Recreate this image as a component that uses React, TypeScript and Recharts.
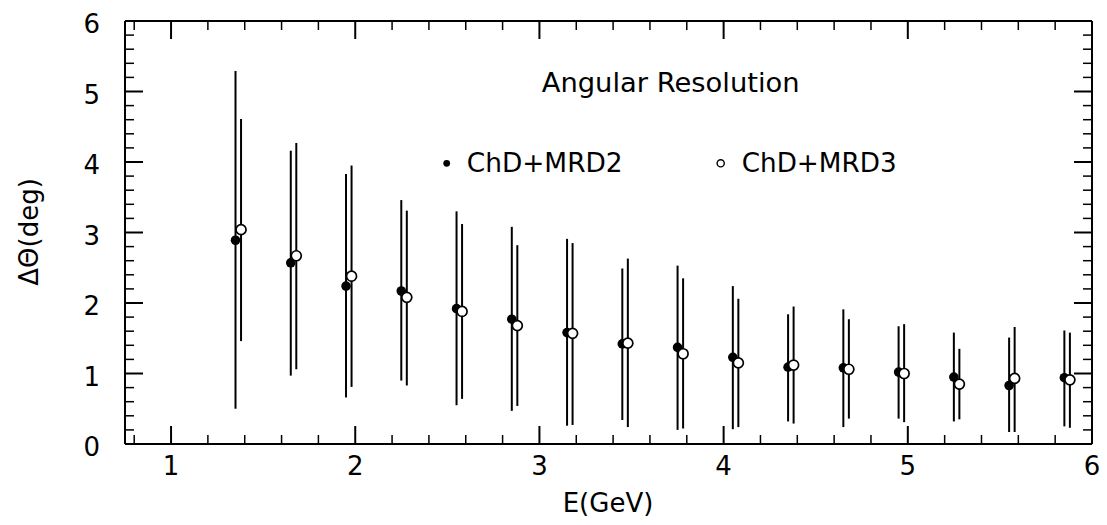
import React from 'react';
import { ScatterChart, Scatter, XAxis, YAxis, ErrorBar, Customized } from 'recharts';

// Energies (GeV) for each series
const energyMRD2 = [1.35, 1.65, 1.95, 2.25, 2.55, 2.85, 3.15, 3.45, 3.75, 4.05, 4.35, 4.65, 4.95, 5.25, 5.55, 5.85];
const energyMRD3 = [1.38, 1.68, 1.98, 2.28, 2.58, 2.88, 3.18, 3.48, 3.78, 4.08, 4.38, 4.68, 4.98, 5.28, 5.58, 5.88];

// ChD+MRD2: central value, upper and lower ends of the error bar
const resMRD2 = [2.89, 2.57, 2.24, 2.17, 1.92, 1.77, 1.58, 1.42, 1.37, 1.23, 1.09, 1.08, 1.02, 0.95, 0.83, 0.94];
const highMRD2 = [5.29, 4.16, 3.83, 3.46, 3.30, 3.08, 2.91, 2.49, 2.53, 2.24, 1.84, 1.91, 1.67, 1.58, 1.51, 1.61];
const lowMRD2 = [0.50, 0.97, 0.66, 0.90, 0.55, 0.47, 0.26, 0.34, 0.20, 0.21, 0.32, 0.24, 0.36, 0.32, 0.17, 0.25];

// ChD+MRD3
const resMRD3 = [3.04, 2.67, 2.38, 2.08, 1.88, 1.68, 1.57, 1.43, 1.28, 1.15, 1.12, 1.06, 1.00, 0.85, 0.93, 0.91];
const highMRD3 = [4.61, 4.27, 3.95, 3.31, 3.12, 2.82, 2.85, 2.63, 2.35, 2.06, 1.95, 1.77, 1.70, 1.35, 1.66, 1.58];
const lowMRD3 = [1.46, 1.06, 0.81, 0.83, 0.64, 0.54, 0.27, 0.24, 0.22, 0.24, 0.29, 0.36, 0.31, 0.35, 0.17, 0.23];

// Tick positions (major ticks at integers get labels)
const xTicks = [0.8, 1, 1.2, 1.4, 1.6, 1.8, 2, 2.2, 2.4, 2.6, 2.8, 3, 3.2, 3.4, 3.6, 3.8, 4, 4.2, 4.4, 4.6, 4.8, 5, 5.2, 5.4, 5.6, 5.8, 6];
const yTicks = [0, 0.2, 0.4, 0.6, 0.8, 1, 1.2, 1.4, 1.6, 1.8, 2, 2.2, 2.4, 2.6, 2.8, 3, 3.2, 3.4, 3.6, 3.8, 4, 4.2, 4.4, 4.6, 4.8, 5, 5.2, 5.4, 5.6, 5.8, 6];

const titleText = 'Angular Resolution';
const legendMRD2 = 'ChD+MRD2';
const legendMRD3 = 'ChD+MRD3';
const xLabel = 'E(GeV)';
const yLabel = 'ΔΘ(deg)';

const dataMRD2 = energyMRD2.map((x, i) => ({ x, y: resMRD2[i], err: [resMRD2[i] - lowMRD2[i], highMRD2[i] - resMRD2[i]] }));
const dataMRD3 = energyMRD3.map((x, i) => ({ x, y: resMRD3[i], err: [resMRD3[i] - lowMRD3[i], highMRD3[i] - resMRD3[i]] }));

const FONT = 'DejaVu Sans';
const isMajor = (v: number) => Math.abs(v - Math.round(v)) < 1e-6;
const MAJOR = 18;
const MINOR = 9;

const BottomTick = (props: any) => {
  const { x, y, payload } = props;
  const v = payload.value;
  const major = isMajor(v);
  return (
    <g>
      <line x1={x} x2={x} y1={y} y2={y - (major ? MAJOR : MINOR)} stroke="#000" strokeWidth={major ? 2 : 1.5} />
      {major && (
        <text x={x} y={y + 31} textAnchor="middle" fontFamily={FONT} fontSize={26} fill="#000">
          {String(Math.round(v))}
        </text>
      )}
    </g>
  );
};

const TopTick = (props: any) => {
  const { x, y, payload } = props;
  const major = isMajor(payload.value);
  return <line x1={x} x2={x} y1={y} y2={y + (major ? MAJOR : MINOR)} stroke="#000" strokeWidth={major ? 2 : 1.5} />;
};

const LeftTick = (props: any) => {
  const { x, y, payload } = props;
  const v = payload.value;
  const major = isMajor(v);
  return (
    <g>
      <line x1={x} x2={x + (major ? MAJOR : MINOR)} y1={y} y2={y} stroke="#000" strokeWidth={major ? 2 : 1.5} />
      {major && (
        <text x={x - 25} y={y + 12} textAnchor="end" fontFamily={FONT} fontSize={26} fill="#000">
          {String(Math.round(v))}
        </text>
      )}
    </g>
  );
};

const RightTick = (props: any) => {
  const { x, y, payload } = props;
  const major = isMajor(payload.value);
  return <line x1={x} x2={x - (major ? MAJOR : MINOR)} y1={y} y2={y} stroke="#000" strokeWidth={major ? 2 : 1.5} />;
};

const FilledDot = (props: any) => {
  const { cx, cy } = props;
  return <circle cx={cx} cy={cy} r={4.8} fill="#000" stroke="none" />;
};

const OpenDot = (props: any) => {
  const { cx, cy } = props;
  return <circle cx={cx} cy={cy} r={5} fill="#fff" stroke="#000" strokeWidth={1.7} />;
};

const Annotations = () => (
  <g fontFamily={FONT} fill="#000">
    <text x={541.7} y={92.3} fontSize={26} textLength={258} lengthAdjust="spacingAndGlyphs">{titleText}</text>
    <circle cx={446.7} cy={163.3} r={3.4} fill="#000" />
    <text x={466.7} y={172.3} fontSize={26} textLength={156} lengthAdjust="spacingAndGlyphs">{legendMRD2}</text>
    <circle cx={720.7} cy={163.3} r={3.6} fill="#fff" stroke="#000" strokeWidth={1.4} />
    <text x={741.7} y={172.3} fontSize={26} textLength={155} lengthAdjust="spacingAndGlyphs">{legendMRD3}</text>
    <text x={608} y={512} fontSize={26} textAnchor="middle">{xLabel}</text>
    <text x={29} y={232} fontSize={26} textAnchor="middle" dominantBaseline="central" transform="rotate(-90 29 232)">{yLabel}</text>
  </g>
);

export default function App() {
  return (
    <div style={{ position: 'absolute', left: 0, top: 0, width: 1107, height: 525, background: '#fff' }}>
      <ScatterChart width={1107} height={525} margin={{ top: 11, right: 5, bottom: 21, left: 45 }}>
        <XAxis
          xAxisId="bottom"
          dataKey="x"
          type="number"
          domain={[0.75, 6]}
          ticks={xTicks}
          allowDataOverflow
          orientation="bottom"
          height={60}
          tickSize={0}
          tickMargin={0}
          interval={0}
          axisLine={{ stroke: '#000', strokeWidth: 2 }}
          tick={<BottomTick />}
        />
        <XAxis
          xAxisId="top"
          dataKey="x"
          type="number"
          domain={[0.75, 6]}
          ticks={xTicks}
          allowDataOverflow
          orientation="top"
          height={10}
          tickSize={0}
          tickMargin={0}
          interval={0}
          axisLine={{ stroke: '#000', strokeWidth: 2 }}
          tick={<TopTick />}
        />
        <YAxis
          yAxisId="left"
          dataKey="y"
          type="number"
          domain={[0, 6]}
          ticks={yTicks}
          allowDataOverflow
          orientation="left"
          width={80}
          tickSize={0}
          tickMargin={0}
          interval={0}
          axisLine={{ stroke: '#000', strokeWidth: 2 }}
          tick={<LeftTick />}
        />
        <YAxis
          yAxisId="right"
          dataKey="y"
          type="number"
          domain={[0, 6]}
          ticks={yTicks}
          allowDataOverflow
          orientation="right"
          width={10}
          tickSize={0}
          tickMargin={0}
          interval={0}
          axisLine={{ stroke: '#000', strokeWidth: 2 }}
          tick={<RightTick />}
        />
        <Scatter data={dataMRD2} xAxisId="bottom" yAxisId="left" shape={<FilledDot />} isAnimationActive={false}>
          <ErrorBar dataKey="err" direction="y" width={0} stroke="#000" strokeWidth={2} isAnimationActive={false} />
        </Scatter>
        <Scatter data={dataMRD3} xAxisId="bottom" yAxisId="left" shape={<OpenDot />} isAnimationActive={false}>
          <ErrorBar dataKey="err" direction="y" width={0} stroke="#000" strokeWidth={2} isAnimationActive={false} />
        </Scatter>
        <Customized component={<Annotations />} />
      </ScatterChart>
    </div>
  );
}
